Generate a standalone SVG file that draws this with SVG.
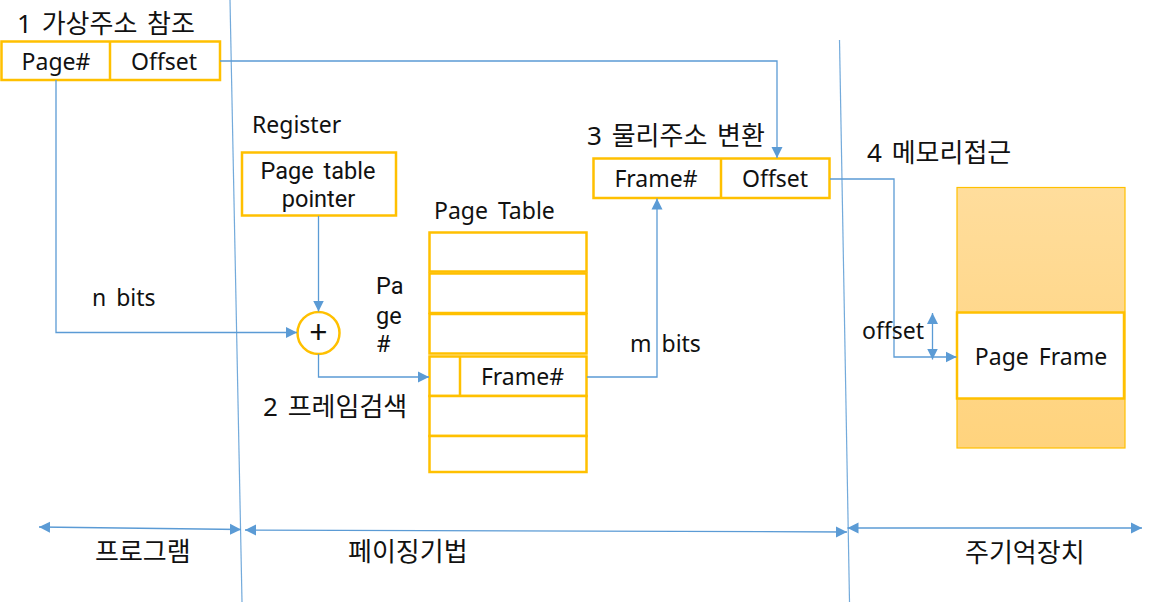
<svg xmlns="http://www.w3.org/2000/svg" width="1155" height="602" viewBox="0 0 1155 602">
<style>
text{font-family:"Noto Sans","Noto Sans CJK KR",sans-serif;fill:#111;}
.l{font-size:23px;word-spacing:4px;}
.k{font-size:26px;word-spacing:3px;}
.r{font-family:Roboto,"Noto Sans",sans-serif;font-size:23.5px;word-spacing:4px;}
.m{text-anchor:middle;}
.box{fill:#fff;stroke:#FFC000;stroke-width:2.5;}
.con{fill:none;stroke:#5B9BD5;stroke-width:1.3;}
.div{fill:none;stroke:#5B9BD5;stroke-width:1.2;opacity:0.85;}
</style>
<defs>
<marker id="ah" markerUnits="userSpaceOnUse" markerWidth="12" markerHeight="12" viewBox="0 0 12 12" refX="11" refY="6" orient="auto-start-reverse">
<path d="M0,0.5 L11,6 L0,11.5 z" fill="#5B9BD5"/>
</marker>
<linearGradient id="mem" x1="0" y1="0" x2="0" y2="1">
<stop offset="0" stop-color="#FFDD9C"/>
<stop offset="1" stop-color="#FFD37D"/>
</linearGradient>
</defs>
<rect width="1155" height="602" fill="#fff"/>

<g id="dividers">
<path class="div" d="M230,0 L242,602"/>
<path class="div" d="M839.5,40 L849.5,602"/>
</g>

<g id="virtual-address">
<text class="k" x="17" y="33">1 가상주소 참조</text>
<rect class="box" x="1.5" y="41.5" width="218.5" height="38.5"/>
<line x1="110" y1="41.5" x2="110" y2="80" stroke="#FFC000" stroke-width="2.5"/>
<text class="l m" x="56" y="70">Page#</text>
<text class="l m" x="164" y="70">Offset</text>
</g>

<g id="register">
<text class="l" x="252" y="133">Register</text>
<rect class="box" x="242" y="152.5" width="154" height="63"/>
<text class="r m" x="318" y="179">Page table</text>
<text class="r m" x="318.5" y="207">pointer</text>
</g>

<g id="adder">
<circle cx="318.5" cy="333" r="21" fill="#fff" stroke="#FFC000" stroke-width="2.5"/>
<text class="m" x="318.5" y="344" font-size="32">+</text>
</g>

<g id="page-label">
<text class="r" x="376" y="294">Pa</text>
<text class="r" x="376" y="324">ge</text>
<text class="r" x="376" y="352">#</text>
</g>

<g id="page-table">
<text class="l" x="434" y="219">Page Table</text>
<rect class="box" x="429.5" y="232.5" width="157" height="39"/>
<rect class="box" x="429.5" y="273.5" width="157" height="39.5"/>
<rect class="box" x="429.5" y="314" width="157" height="39.5"/>
<rect class="box" x="429.5" y="356.5" width="157" height="39.5"/>
<rect class="box" x="429.5" y="396" width="157" height="40"/>
<rect class="box" x="429.5" y="436" width="157" height="36"/>
<line x1="460" y1="356.5" x2="460" y2="396" stroke="#FFC000" stroke-width="2.5"/>
<text class="l m" x="522.5" y="385">Frame#</text>
<text class="k" x="263" y="416">2 프레임검색</text>
</g>

<g id="physical-address">
<text class="k" x="587" y="145">3 물리주소 변환</text>
<rect class="box" x="593.5" y="158.5" width="236" height="39.5"/>
<line x1="721" y1="158.5" x2="721" y2="198" stroke="#FFC000" stroke-width="2.5"/>
<text class="l m" x="656" y="187">Frame#</text>
<text class="l m" x="775" y="187">Offset</text>
</g>

<g id="memory">
<text class="k" x="867" y="162">4 메모리접근</text>
<rect x="957" y="187.5" width="168" height="260.5" fill="url(#mem)" stroke="#FFC000" stroke-width="1.2"/>
<rect class="box" x="957" y="312.5" width="167" height="86"/>
<text class="l m" x="1041" y="365">Page Frame</text>
</g>

<g id="connectors">
<path class="con" d="M56,80 V332.5 H297" marker-end="url(#ah)"/>
<path class="con" d="M318.5,216 V311.5" marker-end="url(#ah)"/>
<path class="con" d="M318.5,354 V377 H429" marker-end="url(#ah)"/>
<path class="con" d="M587,377 H657 V198.5" marker-end="url(#ah)"/>
<path class="con" d="M220,61 H777 V158" marker-end="url(#ah)"/>
<path class="con" d="M830,179 H894 V357 H956.5" marker-end="url(#ah)"/>
<path class="con" d="M932.5,313 V359.5" marker-start="url(#ah)" marker-end="url(#ah)"/>
<path class="con" d="M39,527 L241,529.5" marker-start="url(#ah)" marker-end="url(#ah)"/>
<path class="con" d="M245,530 L847,532" marker-start="url(#ah)" marker-end="url(#ah)"/>
<path class="con" d="M847.5,528 L1142,528" marker-start="url(#ah)" marker-end="url(#ah)"/>
</g>

<g id="labels">
<text class="l" x="92" y="306">n bits</text>
<text class="l" x="630" y="352">m bits</text>
<text class="l" x="862" y="339">offset</text>
<text class="k" x="95" y="561">프로그램</text>
<text class="k" x="348" y="561">페이징기법</text>
<text class="k" x="965" y="562">주기억장치</text>
</g>
</svg>
